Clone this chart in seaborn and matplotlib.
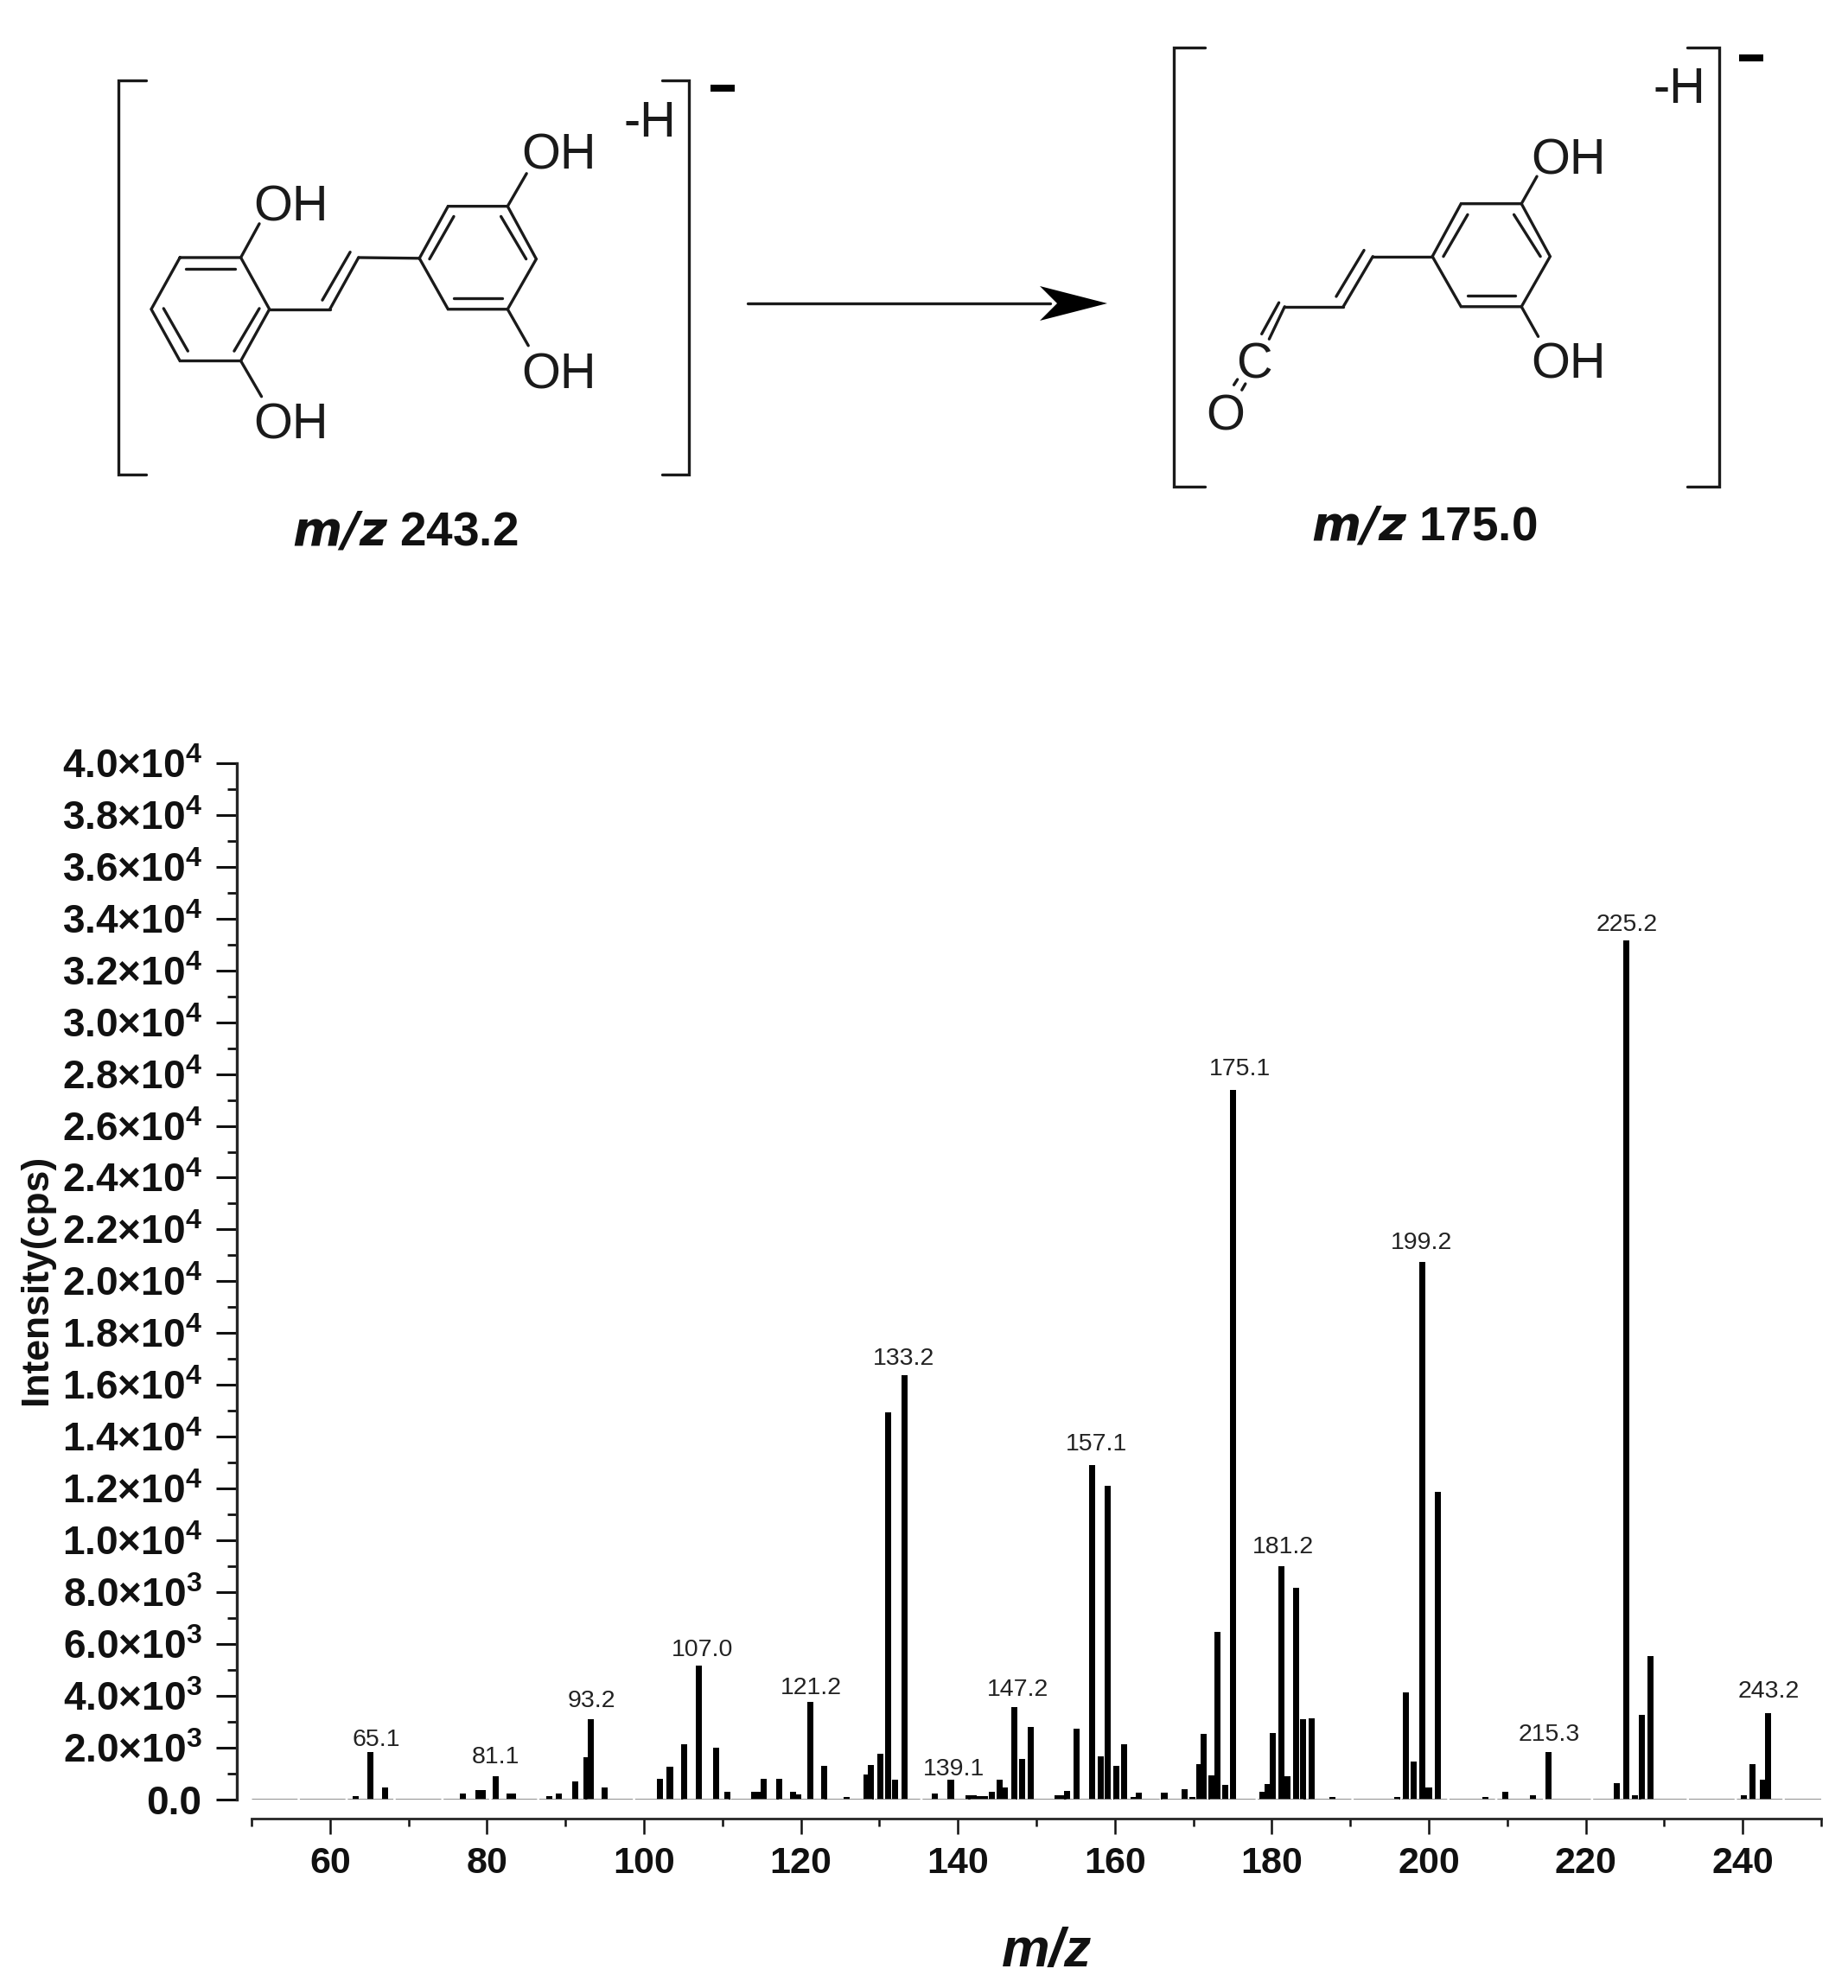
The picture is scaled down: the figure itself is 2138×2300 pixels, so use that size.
import numpy as np
import pandas as pd
import seaborn as sns
import matplotlib
matplotlib.use("Agg")
import matplotlib.pyplot as plt

# ---------- spectrum data ----------
MZ = [63.3, 65.1, 67.0, 76.9, 78.9, 79.5, 81.1, 82.9, 83.3, 87.9, 89.2, 91.2, 92.7, 93.2, 95.0,
      102.0, 103.3, 105.1, 107.0, 109.2, 110.6, 114.1, 114.7, 115.3, 117.2, 119.0, 119.6, 121.2, 123.0,
      125.8, 128.4, 128.9, 130.1, 131.1, 132.0, 133.2, 137.1, 139.1, 141.4, 142.0, 142.8, 143.4, 144.3,
      145.3, 146.0, 147.2, 148.2, 149.3, 152.7, 153.1, 153.9, 155.1, 157.1, 158.2, 159.1, 160.2, 161.2,
      162.4, 163.1, 166.3, 168.9, 169.9, 170.8, 171.3, 172.3, 173.1, 174.1, 175.1, 178.8, 179.5, 180.1,
      181.2, 182.0, 183.1, 184.0, 185.1, 187.7, 196.0, 197.1, 198.1, 199.2, 200.0, 201.2, 207.2, 209.7,
      213.3, 215.3, 224.0, 225.2, 226.3, 227.1, 228.2, 240.1, 241.2, 242.6, 243.2]
INTENSITY = [110, 1810, 467, 220, 367, 367, 880, 220, 220, 110, 220, 690, 1640, 3080, 467,
             778, 1257, 2135, 5170, 2000, 300, 278, 278, 800, 800, 278, 190, 3750, 1300,
             100, 945, 1334, 1757, 14950, 745, 16370, 222, 745, 167, 167, 133, 133, 278,
             745, 467, 3550, 1557, 2800, 167, 167, 311, 2724, 12890, 1668, 12100, 1300, 2135,
             78, 245, 245, 378, 78, 1368, 2524, 923, 6472, 545, 27400, 278, 578, 2557,
             9007, 890, 8173, 3080, 3136, 78, 78, 4137, 1468, 20730, 467, 11860, 89, 278,
             156, 1812, 612, 33175, 167, 3247, 5538, 145, 1368, 745, 3336]

PEAK_LABELS = ["65.1", "81.1", "93.2", "107.0", "121.2", "133.2", "139.1", "147.2",
               "157.1", "175.1", "181.2", "199.2", "215.3", "225.2", "243.2"]
PEAK_MZ = [65.1, 81.1, 93.2, 107.0, 121.2, 133.2, 139.1, 147.2,
           157.1, 175.1, 181.2, 199.2, 215.3, 225.2, 243.2]
LABEL_DX = [7, 0, 1, 4, 1, -1, 3, 4, 5, 8, 2, -1, 0, 0, 1]
LABEL_DY = [14, 22, 21, 18, 16, 19, 12, 20, 24, 24, 22, 22, 20, 18, 25]

Y_MAJOR = list(range(0, 40001, 2000))
Y_LABELS = ["0.0"] + [r"$\mathbf{%.1f{\times}10^{%d}}$" % (v / 10 ** int(np.log10(v)), int(np.log10(v)))
                      for v in Y_MAJOR[1:]]
X_MAJOR = list(range(60, 241, 20))
X_MINOR = list(range(50, 251, 20))

# ---------- theme ----------
sns.set_theme(style="ticks", rc={
    "figure.facecolor": "white", "axes.facecolor": "none",
    "mathtext.fontset": "custom", "mathtext.bf": "Liberation Sans:bold",
    "mathtext.rm": "Liberation Sans", "mathtext.it": "Liberation Sans:italic",
})
plt.rcParams["font.family"] = ["Liberation Sans", "DejaVu Sans"]

W, H = 2138, 2300
fig = plt.figure(figsize=(W / 100, H / 100), dpi=100, facecolor="white")

# ---------- spectrum ----------
AX_L, AX_R, AX_T, AX_B = 273.7, 2107, 883, 2081.7
ax = fig.add_axes([AX_L / W, 1 - AX_B / H, (AX_R - AX_L) / W, (AX_B - AX_T) / H])
df = pd.DataFrame({"mz": MZ, "intensity": INTENSITY})
BAR_W = 0.78
min_gap = np.min(np.diff(np.unique(MZ)))
sns.barplot(data=df, x="mz", y="intensity", native_scale=True, orient="x", color="black",
            saturation=1, width=BAR_W / min_gap, errorbar=None, linewidth=0, ax=ax)
ax.hlines(0, 50, 250, color="#7a7a7a", lw=1.9, linestyles=(0, (20, 1.0)), zorder=1)
ax.set_xlim(50 - (291 - AX_L) / 9.08, 250)
ax.set_ylim(0, 40000)

for s in ("top", "right"):
    ax.spines[s].set_visible(False)
ax.spines["left"].set_linewidth(2.4)
ax.spines["left"].set_bounds(0, 40000)
ax.spines["bottom"].set_position(("outward", 22 * 0.72))
ax.spines["bottom"].set_linewidth(2.0)
ax.spines["bottom"].set_bounds(50, 250)

ax.set_yticks(Y_MAJOR, labels=Y_LABELS)
ax.set_yticks(np.arange(1000, 40000, 2000), minor=True)
ax.set_xticks(X_MAJOR, labels=[str(v) for v in X_MAJOR])
ax.set_xticks(X_MINOR, minor=True)
ax.tick_params(axis="y", which="major", length=17, width=2.2, pad=12, labelsize=33, color="#111", labelcolor="#111")
ax.tick_params(axis="y", which="minor", length=8, width=2.0, color="#111")
ax.tick_params(axis="x", which="major", length=13, width=1.8, pad=10, labelsize=31, color="#111", labelcolor="#111")
ax.tick_params(axis="x", which="minor", length=6.5, width=1.8, color="#111")
for t in ax.get_xticklabels() + ax.get_yticklabels():
    t.set_fontweight("bold")
ax.set_xlabel("")
ax.set_ylabel("")

height = dict(zip(MZ, INTENSITY))
for lab, m, dx, dy in zip(PEAK_LABELS, PEAK_MZ, LABEL_DX, LABEL_DY):
    ax.annotate(lab, xy=(m, height[m]), xytext=(dx * 0.72, dy * 0.72), textcoords="offset points",
                ha="center", va="center", fontsize=20.5, color="#222", annotation_clip=False)

# ---------- overlay in pixel space: structures and axis titles ----------
ov = fig.add_axes([0, 0, 1, 1], zorder=5)
ov.set_xlim(0, W)
ov.set_ylim(H, 0)
ov.axis("off")
ov.patch.set_alpha(0)

ov.text(42, 1480, "Intensity(cps)", rotation=90, ha="center", va="center", fontsize=32, fontweight="bold", color="#111")
ov.text(1211, 2259, "m/z", ha="center", va="center", fontsize=45, fontweight="bold", style="italic", color="#111")

LW = 2.4
INK = "#1a1a1a"


def L_seg(ox, oy, segs):
    for (x1, y1), (x2, y2) in segs:
        ov.plot([ox + x1 / 1.96, ox + x2 / 1.96], [oy + y1 / 2.376, oy + y2 / 2.376],
                color=INK, lw=LW, solid_capstyle="round")


def path(ox, oy, pts):
    ov.plot([ox + p[0] / 1.96 for p in pts], [oy + p[1] / 2.376 for p in pts],
            color=INK, lw=LW, solid_joinstyle="miter", solid_capstyle="round")


# left structure
path(100, 0, [(135, 222), (72, 222), (72, 1305), (135, 1305)])
path(100, 0, [(1305, 222), (1367, 222), (1367, 1305), (1305, 1305)])
path(100, 0, [(212, 708), (350, 708), (415, 850), (350, 992), (212, 992), (147, 850), (212, 708)])
L_seg(100, 0, [((225, 740), (338, 740)), ((175, 848), (230, 965)), ((335, 965), (392, 848)),
               ((350, 708), (392, 615)), ((350, 992), (397, 1090)),
               ((415, 850), (552, 850)), ((552, 850), (617, 708)), ((535, 825), (598, 693)),
               ((617, 708), (755, 710)),
               ((778, 712), (833, 595)), ((940, 595), (997, 712)), ((833, 820), (943, 820)),
               ((955, 567), (998, 477)), ((955, 850), (1002, 950))])
path(100, 0, [(755, 710), (820, 567), (955, 567), (1020, 712), (955, 850), (820, 850), (755, 710)])
ov.plot([822, 850], [102, 102], color="black", lw=5.8, solid_capstyle="butt")

# right structure
path(1300, 0, [(185, 130), (113, 130), (113, 1338), (185, 1338)])
path(1300, 0, [(1278, 130), (1350, 130), (1350, 1338), (1278, 1338)])
path(1300, 0, [(700, 705), (765, 560), (902, 560), (967, 705), (902, 843), (765, 843), (700, 705)])
L_seg(1300, 0, [((725, 705), (780, 590)), ((885, 590), (945, 705)), ((780, 812), (888, 812)),
                ((902, 560), (937, 485)), ((902, 843), (940, 925)),
                ((700, 705), (565, 705)), ((565, 705), (498, 843)), ((545, 688), (482, 815)),
                ((498, 843), (365, 843)), ((365, 843), (330, 932)), ((352, 832), (313, 918)),
                ((258, 1043), (250, 1058)), ((276, 1055), (268, 1072))])
ov.plot([2012, 2040], [67, 67], color="black", lw=5.8, solid_capstyle="butt")

# arrow
ov.plot([865, 1215], [351, 351], color=INK, lw=LW)
ov.fill([1281, 1203, 1223, 1203], [351, 331, 351, 371], color="black", lw=0)

for x, y, s in [(646, 181, "OH"), (337, 240, "OH"), (337, 493, "OH"), (646, 434, "OH"),
                (1814, 186, "OH"), (1814, 423, "OH"), (1451, 423, "C"), (1418, 482, "O"),
                (752, 143, "-H"), (1943, 104, "-H")]:
    ov.text(x, y, s, ha="center", va="center", fontsize=41.5, color=INK)

for x, y, val in [(469, 617, "243.2"), (1648, 611, "175.0")]:
    ov.text(x, y, r"$\mathbfit{m/z}$ " + r"$\mathbf{" + val + "}$", ha="center", va="center", fontsize=39.5, color="#111")

fig.savefig("out.png", dpi=100, facecolor="white")
